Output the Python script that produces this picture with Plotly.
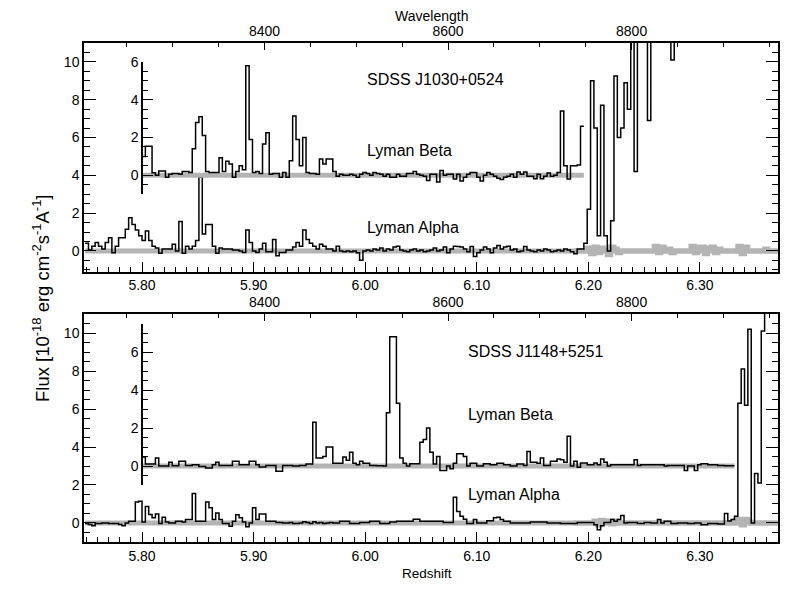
import numpy as np
import plotly.graph_objects as go

# ---------------- data ----------------
LYA_REST = 1215.67          # Angstrom, Lyman alpha rest wavelength
Z_START = 5.749             # left edge of first spectral bin (redshift)
BIN_WIDTH = 0.003           # bin width in redshift
Z_RANGE = [5.748, 6.370]

# SDSS J1030+0524 - Lyman alpha transmitted flux (bins 0..206)
top_lya = [
    0.4, 0.05, 0.25, 0.45, 0.25, 0.1, 0.45, 0.7, -0.1, 0.25,
    0.7, 0.7, 1.15, 1.75, 1.4, 1.1, 0.8, 0.55, 1.05, 0.55,
    0.25, 0.15, -0.12, 0.1, 0.1, 0.1, 0.35, 0.0, 1.55, -0.12,
    0.25, 0.1, 0.25, 0.55, 3.9, 0.9, 1.4, 1.4, 0.25, -0.12,
    0.15, 0.1, 0.1, 0.1, 0.05, 0.05, 0.0, -0.08, 1.1, 0.45,
    0.0, -0.08, 0.1, 0.4, -0.05, -0.05, 0.6, -0.26, -0.08, -0.08,
    0.05, 0.05, 0.2, 0.45, 0.25, 1.1, 0.6, 0.4, 0.25, 0.1,
    0.35, 0.25, 0.1, 0.1, 0.0, 0.25, 0.0, -0.05, 0.0, -0.05,
    0.0, -0.1, -0.5, 0.0, 0.05, 0.0, 0.1, 0.05, 0.15, 0.0,
    0.1, 0.05, 0.2, 0.25, 0.05, 0.0, -0.05, 0.05, 0.1, 0.0,
    0.05, -0.05, 0.0, 0.05, 0.15, 0.0, 0.05, 0.2, -0.1, 0.1,
    0.25, 0.23, 0.2, 0.1, -0.05, 0.23, -0.3, -0.1, 0.05, 0.2,
    0.1, -0.1, 0.15, 0.28, 0.1, 0.2, 0.25, 0.05, 0.1, -0.05,
    0.0, 0.23, 0.05, 0.0, -0.05, 0.05, 0.0, 0.1, 0.05, -0.05,
    0.0, 0.05, 0.0, 0.1, 0.05, -0.05, -0.15, 0.1, 0.1, 0.4,
    2.2, 9.0, 6.5, 0.8, 7.7, 0.8, 0.0, 1.6, 9.26, 6.0,
    6.5, 8.9, 7.5, 14, 4.2, 14, 14, 14, 6.9, 14,
    14, 14, 14, 14, 14, 10.1, 14, 14, 14, 14,
    14, 14, 14, 14, 14, 14, 14, 14, 14, 14,
    14, 14, 14, 14, 14, 14, 14, 14, 14, 14,
    14, 14, 14, 14, 14, 14, 14,
]

# SDSS J1030+0524 - Lyman beta transmitted flux (bins 17..148)
top_lyb_first_bin = 17
top_lyb = [
    1.0, 1.54, 1.54, 0.14, 0.0, 0.23, 0.23, -0.1, 0.05, 0.1,
    0.1, 0.05, 0.2, 0.2, 0.15, 1.4, 2.8, 3.1, 2.1, 0.2,
    0.15, 0.15, 0.15, 0.93, 0.2, 0.75, 0.6, -0.1, 0.2, 0.5,
    0.3, 5.8, 1.9, 0.15, 0.2, 0.1, 1.66, 2.25, 0.05, 0.1,
    0.1, -0.1, 0.15, -0.1, 0.77, 3.14, 1.9, 0.5, 2.0, 0.15,
    0.1, 0.1, 0.05, 0.86, 0.6, 0.86, 0.86, 0.2, -0.05, 0.05,
    0.0, 0.0, 0.05, 0.0, -0.1, 0.05, 0.15, 0.1, 0.0, 0.15,
    0.1, 0.05, -0.05, 0.05, -0.1, -0.1, 0.05, -0.05, -0.05, 0.1,
    0.1, 0.2, 0.05, 0.0, -0.05, -0.27, 0.05, 0.05, -0.35, 0.25,
    0.0, 0.05, 0.05, -0.2, 0.05, -0.3, -0.1, 0.05, 0.15, 0.15,
    -0.1, -0.3, 0.0, 0.15, 0.05, -0.05, -0.15, -0.22, -0.1, -0.05,
    0.05, -0.1, 0.18, 0.05, 0.18, -0.05, -0.05, -0.18, 0.05, -0.18,
    -0.05, 0.12, -0.05, 0.0, 0.15, 3.4, 0.5, -0.2, 0.5, 0.5,
    0.55, 2.6,
]

# SDSS J1030+0524 - sky residual (grey), bins 146..206
top_sky_first_bin = 146
top_sky = [
    0, 0, 0, 0, 0.15, -0.15, 0.2, -0.1, 0.15, 0.0,
    -0.2, 0.2, 0.1, -0.1, 0, 0, 0, 0, 0, 0,
    0, 0, 0, 0, 0.25, -0.1, 0.2, 0.0, 0.1, -0.1,
    0, 0, 0, 0, 0, 0.25, -0.1, 0.2, 0.2, -0.15,
    0.15, 0.2, -0.1, 0.1, 0, 0, 0, 0, 0, 0.25,
    -0.15, 0.2, 0, 0, 0, 0, 0, 0.1, 0, 0, 0,
]

# SDSS J1148+5251 - Lyman alpha transmitted flux (bins 0..206)
bot_lya = [
    -0.03, -0.08, -0.14, -0.03, -0.03, 0.0, 0.0, -0.03, -0.03, -0.03,
    -0.08, -0.14, 0.0, 0.09, 0.09, 1.1, 1.15, 0.05, 0.87, 0.45,
    0.27, 0.47, -0.03, 0.3, 0.05, 0.0, 0.0, 0.09, 0.09, 0.05,
    0.18, 0.18, 1.55, 0.09, 0.09, 0.09, 1.1, 0.8, 0.18, 0.53,
    0.18, -0.03, -0.03, -0.17, 0.09, 0.44, 0.27, 0.05, -0.2, 0.0,
    0.8, 0.18, 0.47, 0.47, 0.09, 0.09, 0.09, 0.03, 0.03, 0.0,
    0.0, 0.03, -0.03, -0.03, 0.0, 0.07, 0.03, -0.03, 0.07, 0.0,
    0.03, -0.03, 0.0, 0.03, 0.0, 0.0, 0.09, 0.09, 0.09, -0.03,
    -0.03, -0.03, 0.03, 0.03, 0.03, 0.09, 0.09, 0.09, -0.03, -0.03,
    -0.03, 0.05, 0.05, 0.09, 0.09, 0.09, 0.09, 0.09, 0.2, 0.2,
    0.09, 0.09, 0.09, 0.09, 0.09, 0.09, 0.09, 0.03, 0.03, 0.03,
    1.35, 0.6, 0.35, 0.2, -0.03, -0.03, 0.18, 0.0, 0.0, 0.0,
    0.12, 0.12, 0.27, 0.3, 0.18, 0.09, 0.09, 0.0, 0.0, 0.0,
    0.0, 0.0, 0.0, 0.05, 0.05, 0.05, 0.05, 0.05, 0.0, 0.0,
    0.0, 0.0, -0.03, -0.03, -0.03, -0.03, -0.03, 0.03, 0.03, 0.03,
    0.03, 0.03, -0.09, -0.35, -0.14, 0.03, 0.03, 0.18, 0.09, 0.18,
    0.39, 0.0, 0.03, 0.03, 0.03, -0.03, -0.03, 0.03, 0.03, 0.0,
    0.0, 0.18, 0.0, 0.09, 0.09, -0.03, -0.03, 0.0, 0.0, 0.0,
    -0.03, -0.03, 0.0, 0.0, -0.09, -0.09, -0.03, -0.03, -0.03, -0.05,
    -0.05, 0.5, 0.1, 0.18, 0.35, 6.3, 8.1, 6.2, 10.2, 0.0,
    2.6, 2.1, 10.1, 14, 14, 14, 14,
]

# SDSS J1148+5251 - Lyman beta transmitted flux (bins 17..193)
bot_lyb_first_bin = 17
bot_lyb = [
    0.48, 0.1, 0.1, 0.1, 0.42, 0.0, 0.0, 0.0, 0.2, 0.02,
    0.02, 0.25, 0.25, 0.03, 0.03, 0.07, 0.07, -0.02, -0.02, -0.1,
    -0.1, 0.07, 0.2, 0.03, 0.03, 0.03, 0.03, 0.25, 0.25, 0.07,
    0.07, 0.07, 0.25, 0.25, 0.07, -0.05, -0.05, 0.03, 0.03, 0.03,
    -0.28, -0.28, 0.03, 0.03, 0.03, 0.0, 0.0, 0.03, 0.03, 0.1,
    0.1, 2.3, 0.42, 0.42, 0.5, 1.0, 1.0, 0.15, 0.15, 0.15,
    0.47, 0.3, 0.72, 0.15, 0.07, 0.25, 0.15, 0.15, 0.03, 0.03,
    0.02, 0.02, 0.0, 2.8, 6.8, 6.8, 3.3, 0.42, 0.15, 0.0,
    0.12, 0.12, 0.12, 1.25, 1.4, 2.0, 0.72, 0.1, 0.5, -0.23,
    -0.23, 0.0, -0.15, 0.15, 0.65, 0.65, 0.5, 0.0, 0.15, 0.15,
    0.0, 0.0, 0.12, 0.12, 0.07, 0.07, 0.15, 0.15, 0.07, 0.07,
    0.0, 0.0, 0.1, 0.1, 0.03, 0.77, 0.2, 0.2, 0.15, 0.42,
    0.03, 0.03, 0.25, 0.25, 0.37, 0.33, 0.2, 1.56, 0.0, 0.25,
    -0.07, 0.16, 0.16, 0.07, 0.07, 0.16, 0.07, 0.37, 0.2, 0.0,
    0.07, 0.07, 0.07, 0.07, 0.07, 0.07, 0.07, 0.33, 0.03, 0.07,
    0.07, 0.07, 0.07, 0.07, 0.07, 0.07, 0.0, 0.03, 0.03, 0.03,
    0.03, 0.03, -0.23, 0.0, 0.0, -0.23, 0.07, 0.12, 0.12, 0.07,
    0.07, 0.07, 0.03, 0.03, 0.02, 0.02, 0.02,
]

# SDSS J1148+5251 - sky residual (grey), bins 146..206
bot_sky_first_bin = 146
bot_sky = [
    0, 0, 0, 0, 0, 0, 0.1, -0.1, 0.15, 0.0,
    0.1, -0.05, 0.1, 0, 0, 0, 0, 0, 0, 0,
    0, 0, 0, 0, 0, 0, 0, 0, 0, 0,
    0, 0, 0, 0, 0, 0, 0, 0, 0, 0,
    0, 0, 0, 0, 0, 0, 0, 0, 0.1, 0.2,
    -0.1, 0.2, 0.05, 0, 0, 0, 0, 0, 0, 0, 0,
]

quasar_names = ["SDSS J1030+0524", "SDSS J1148+5251"]
wave_ticks = [8400, 8600, 8800]

# ---------------- helpers ----------------
def step_xy(first_bin, values):
    n = len(values)
    edges = Z_START + BIN_WIDTH * (first_bin + np.arange(n + 1))
    return edges, list(values) + [values[-1]]


FONT = "Liberation Sans, Arial, Helvetica, sans-serif"
tickfont = dict(family=FONT, size=14, color="black")
BLACK_W = 1.5
GREY = "#b4b4b4"
GREY_W = 5

# panel geometry (paper fractions)
TOP_DOM = [0.5417, 1.0]
BOT_DOM = [0.0, 0.4569]
TOP_YR = [-1.1, 11.0]
BOT_YR = [-1.0, 11.0]
TOP_INSET = [-1, 6]
TOP_OFF = 4
BOT_INSET = [-1, 7.5]
BOT_OFF = 3


def sub_domain(dom, yr, lo, hi):
    f = lambda v: dom[0] + (v - yr[0]) / (yr[1] - yr[0]) * (dom[1] - dom[0])
    return [f(lo), f(hi)]


inset_pos = (5.80 - Z_RANGE[0]) / (Z_RANGE[1] - Z_RANGE[0])
wl_range = [LYA_REST * (1 + Z_RANGE[0]), LYA_REST * (1 + Z_RANGE[1])]

fig = go.Figure()


def add_spectrum(first_bin, values, xa, ya, sky=None, sky_first=None):
    ex, ey = step_xy(first_bin, values)
    # grey zero level across the extent of the spectrum
    fig.add_trace(go.Scatter(x=[ex[0], ex[-1]], y=[0, 0], mode="lines",
                             line=dict(color=GREY, width=GREY_W),
                             xaxis=xa, yaxis=ya, hoverinfo="skip", showlegend=False))
    if sky is not None:
        sx, sy = step_xy(sky_first, sky)
        fig.add_trace(go.Scatter(x=sx, y=sy, mode="lines", line_shape="hv",
                                 line=dict(color=GREY, width=GREY_W),
                                 xaxis=xa, yaxis=ya, hoverinfo="skip", showlegend=False))
    fig.add_trace(go.Scatter(x=ex, y=ey, mode="lines", line_shape="hv",
                             line=dict(color="black", width=BLACK_W),
                             xaxis=xa, yaxis=ya, showlegend=False))


add_spectrum(0, top_lya, "x2", "y2", top_sky, top_sky_first_bin)
add_spectrum(top_lyb_first_bin, top_lyb, "x2", "y3")
add_spectrum(0, bot_lya, "x", "y", bot_sky, bot_sky_first_bin)
add_spectrum(bot_lyb_first_bin, bot_lyb, "x", "y4")

# empty traces so the wavelength (top) axes get drawn
for xa, ya in (("x3", "y2"), ("x4", "y")):
    fig.add_trace(go.Scatter(x=wave_ticks, y=[None] * len(wave_ticks), mode="lines",
                             xaxis=xa, yaxis=ya, hoverinfo="skip", showlegend=False))

# ---------------- axes ----------------
zaxis = dict(range=Z_RANGE, showline=True, linecolor="black", linewidth=1.5,
             ticks="inside", ticklen=10, tickwidth=1.2, tickcolor="black",
             tick0=5.8, dtick=0.1, tickformat=".2f",
             minor=dict(tick0=5.8, dtick=0.01, ticklen=5, ticks="inside",
                        tickcolor="black", tickwidth=1),
             showgrid=False, zeroline=False, tickfont=tickfont, mirror=False)

waxis = dict(range=wl_range, side="top", showline=True, linecolor="black", linewidth=1.5,
             ticks="inside", ticklen=7, tickwidth=1.2, tickcolor="black",
             tick0=wave_ticks[0], dtick=wave_ticks[1] - wave_ticks[0],
             minor=dict(tick0=wave_ticks[0], dtick=50, ticklen=4, ticks="inside",
                        tickcolor="black", tickwidth=1),
             showgrid=False, zeroline=False, tickfont=tickfont)

yaxis_main = dict(showline=True, linecolor="black", linewidth=1.5, mirror="ticks",
                  ticks="inside", ticklen=12, tickwidth=1.2, tickcolor="black",
                  tick0=0, dtick=2,
                  minor=dict(tick0=0, dtick=0.5, ticklen=6, ticks="inside",
                             tickcolor="black", tickwidth=1),
                  showgrid=False, zeroline=False, tickfont=tickfont)

yaxis_inset = dict(showline=True, linecolor="black", linewidth=1.5, anchor="free",
                   position=inset_pos, ticks="inside", ticklen=10, tickwidth=1.2,
                   tickcolor="black", tick0=0, dtick=2,
                   minor=dict(tick0=0, dtick=0.5, ticklen=5, ticks="inside",
                              tickcolor="black", tickwidth=1),
                   showgrid=False, zeroline=False, tickfont=tickfont)

fig.update_layout(
    width=800, height=595,
    margin=dict(l=84, r=22, t=43, b=53),
    paper_bgcolor="white", plot_bgcolor="rgba(0,0,0,0)",
    showlegend=False,
    xaxis=dict(zaxis, anchor="y", domain=[0, 1]),
    xaxis2=dict(zaxis, anchor="y2", domain=[0, 1]),
    xaxis3=dict(waxis, overlaying="x2", anchor="y2"),
    xaxis4=dict(waxis, overlaying="x", anchor="y"),
    yaxis=dict(yaxis_main, range=BOT_YR, domain=BOT_DOM, anchor="x"),
    yaxis2=dict(yaxis_main, range=TOP_YR, domain=TOP_DOM, anchor="x2"),
    yaxis3=dict(yaxis_inset, range=TOP_INSET,
                domain=sub_domain(TOP_DOM, TOP_YR, TOP_INSET[0] + TOP_OFF, TOP_INSET[1] + TOP_OFF)),
    yaxis4=dict(yaxis_inset, range=BOT_INSET,
                domain=sub_domain(BOT_DOM, BOT_YR, BOT_INSET[0] + BOT_OFF, BOT_INSET[1] + BOT_OFF)),
)

# ---------------- text ----------------
lab_font = dict(family=FONT, size=16, color="black")
def px_x(px):
    return (px - 84) / 694.0
def px_y(py):
    return (542 - py) / 499.0

annotations = [
    dict(text=quasar_names[0], x=6.00, y=9.05, xref="x2", yref="y2"),
    dict(text="Lyman Beta", x=6.00, y=5.3, xref="x2", yref="y2"),
    dict(text="Lyman Alpha", x=6.00, y=1.25, xref="x2", yref="y2"),
    dict(text=quasar_names[1], x=6.09, y=9.03, xref="x", yref="y"),
    dict(text="Lyman Beta", x=6.09, y=5.7, xref="x", yref="y"),
    dict(text="Lyman Alpha", x=6.09, y=1.5, xref="x", yref="y"),
]
for a in annotations:
    fig.add_annotation(**a, xanchor="left", yanchor="middle", showarrow=False, font=lab_font)

fig.add_annotation(text="Wavelength", x=px_x(431), y=px_y(16), xref="paper", yref="paper",
                   showarrow=False, xanchor="center", yanchor="middle",
                   font=dict(family=FONT, size=14, color="black"))
fig.add_annotation(text="Redshift", x=px_x(427), y=px_y(573), xref="paper", yref="paper",
                   showarrow=False, xanchor="center", yanchor="middle",
                   font=dict(family=FONT, size=13.5, color="black"))
fig.add_annotation(text="Flux [10<sup>-18</sup> erg cm<sup>-2</sup>s<sup>-1</sup>A<sup>-1</sup>]",
                   x=px_x(41), y=px_y(299), xref="paper", yref="paper", textangle=-90,
                   showarrow=False, xanchor="center", yanchor="middle",
                   font=dict(family=FONT, size=18.5, color="black"))

# remove the browser's default 8px body margin so the figure sits at (0, 0)
fig.write_html("out.html", config={"displayModeBar": False},
               post_script="document.body.style.margin='0px';")
